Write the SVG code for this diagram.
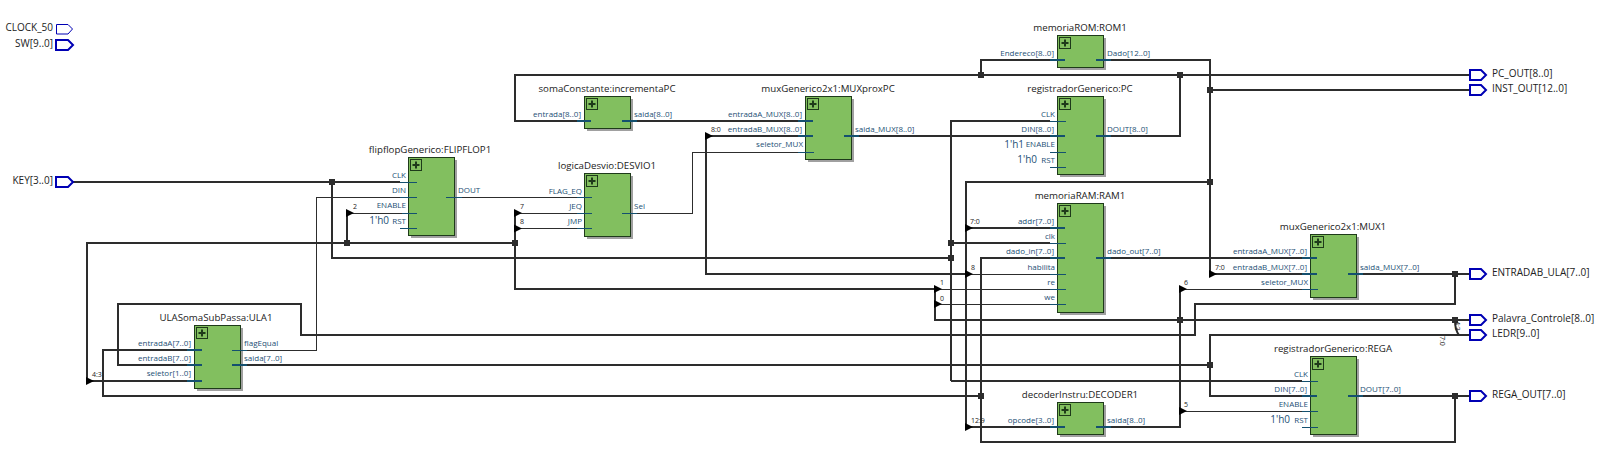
<svg xmlns="http://www.w3.org/2000/svg" width="1600" height="459" viewBox="0 0 1600 459">
<style>
text{font-family:"Open Sans","Noto Sans","Liberation Sans",sans-serif}
.t{font-size:9.7px;fill:#222;text-anchor:middle}
.p{font-size:8px;fill:#1d4f75}
.c{font-size:10px;fill:#1d4f75;text-anchor:end}
.n{font-size:7px;fill:#222}
.pl{font-size:10px;fill:#222}
.b{fill:#82bf5f;stroke:#1e3a1a;stroke-width:1}
.sh{fill:#a0a0a0}
.ic{fill:none;stroke:#1e3a1a;stroke-width:1}
.w{fill:none;stroke:#2d2d2d;stroke-width:2}
.f{fill:none;stroke:#2d2d2d;stroke-width:1;shape-rendering:crispEdges}
.s{stroke:#14506f;stroke-width:2;fill:none}
.st{stroke:#14506f;stroke-width:1;fill:none;shape-rendering:crispEdges}
.port{fill:#fff;stroke:#0000b4;stroke-width:2}
.j{fill:#2d2d2d}
.a{fill:#000}
</style>
<defs>
<g id="plus"><rect class="ic" x="-5.500" y="-5.500" width="11" height="11"/><path d="M-3.500 0H3.500M0-3.500V3.500" stroke="#1e3a1a" stroke-width="2"/></g>
<path id="o" class="port" d="M0-5H11L16 0L11 5H0Z"/>
<path id="i" class="port" d="M0-5H12L17 0L12 5H0Z"/>
<rect id="jn" class="j" x="-3" y="-3" width="6" height="6"/>
<path id="ar" class="a" d="M-1-4L7 0L-1 4Z"/>
</defs>

<g id="connectors">
<path class="w" d="M72 182H400"/>
<path class="w" d="M332 182V258H951"/>
<path class="w" d="M951 381V121H1050M951 243H1050M951 381H1302"/>
<path class="w" d="M187 381H87V243H515"/>
<path class="w" d="M347 243V213"/><path class="f" d="M347 213H402"/>
<path class="w" d="M515 213V289H935"/>
<path class="f" d="M515 213H577M515 228.500H577M935 289H1050M935 304H1050M966 274H1050M1180 289H1302M1180 411H1302"/>
<path class="w" d="M187 350H103V396H981"/>
<path class="w" d="M187 365H118V304H301V335H1195V304H1455V274"/>
<path class="w" d="M247 365H1210"/>
<path class="w" d="M1302 396H1210V335H1470"/>
<path class="w" d="M1363 396H1470"/>
<path class="w" d="M1455 396V442H981V258H1050"/>
<path class="f" d="M232 350H316V197H400M462 197H577"/>
<path class="f" d="M637 213H692V152H798"/>
<path class="w" d="M1470 75H515V121H577M637 121H798"/>
<path class="w" d="M981 75V60H1050M1180 75V136H1111"/>
<path class="w" d="M966 274H706V136H798"/>
<path class="w" d="M859 136H1050"/>
<path class="w" d="M1111 60H1210V274H1302M1210 90H1470M1210 182H966V427H1050M966 228H1050"/>
<path class="w" d="M1111 258H1302"/>
<path class="w" d="M1363 274H1470"/>
<path class="w" d="M1111 427H1180V289"/>
<path class="w" d="M935 289V320H1470"/>
<path class="w" d="M1455 320Q1455 330 1459 335"/>
<use href="#jn" x="332" y="182"/><use href="#jn" x="347" y="243"/><use href="#jn" x="515" y="243"/><use href="#jn" x="951" y="243"/><use href="#jn" x="951" y="258"/><use href="#jn" x="981" y="75"/><use href="#jn" x="1180" y="75"/><use href="#jn" x="1210" y="90"/><use href="#jn" x="1210" y="182"/><use href="#jn" x="981" y="396"/><use href="#jn" x="1210" y="365"/><use href="#jn" x="1180" y="320"/><use href="#jn" x="1455" y="274"/><use href="#jn" x="1455" y="320"/><use href="#jn" x="1455" y="396"/>
<use href="#ar" x="347" y="213"/><use href="#ar" x="515" y="213"/><use href="#ar" x="515" y="228.500"/><use href="#ar" x="87" y="381"/><use href="#ar" x="706" y="136"/><use href="#ar" x="966" y="228"/><use href="#ar" x="966" y="274"/><use href="#ar" x="966" y="427"/><use href="#ar" x="935" y="289"/><use href="#ar" x="935" y="304"/><use href="#ar" x="1210" y="274"/><use href="#ar" x="1180" y="289"/><use href="#ar" x="1180" y="411"/>
<text class="n" x="353" y="209">2</text><text class="n" x="520" y="209">7</text><text class="n" x="520" y="224">8</text><text class="n" x="92" y="377">4:3</text><text class="n" x="711" y="132">8:0</text><text class="n" x="970" y="224">7:0</text><text class="n" x="971" y="270">8</text><text class="n" x="940" y="285">1</text><text class="n" x="940" y="301">0</text><text class="n" x="1215" y="270">7:0</text><text class="n" x="1184" y="285">6</text><text class="n" x="1184" y="407">5</text><text class="n" x="971" y="423">12:9</text><text class="n" transform="translate(1454.500 321) rotate(90)">4:3</text><text class="n" transform="translate(1440 336) rotate(90)">7:0</text>
</g>

<g id="CLOCK_50"><path class="port" style="stroke-width:1" d="M56.500 24.500H68L72.500 29L68 34H56.500Z"/><text class="pl" x="53" y="31" text-anchor="end">CLOCK_50</text></g>
<g id="SW"><use href="#i" x="56" y="45"/><text class="pl" x="53" y="47" text-anchor="end">SW[9..0]</text></g>
<g id="KEY"><use href="#i" x="56" y="182"/><text class="pl" x="53" y="184" text-anchor="end">KEY[3..0]</text></g>
<g id="PC_OUT"><use href="#o" x="1470" y="75"/><text class="pl" x="1492" y="77">PC_OUT[8..0]</text></g>
<g id="INST_OUT"><use href="#o" x="1470" y="90"/><text class="pl" x="1492" y="92">INST_OUT[12..0]</text></g>
<g id="ENTRADAB_ULA"><use href="#o" x="1470" y="274"/><text class="pl" x="1492" y="276">ENTRADAB_ULA[7..0]</text></g>
<g id="Palavra_Controle"><use href="#o" x="1470" y="320"/><text class="pl" x="1492" y="322">Palavra_Controle[8..0]</text></g>
<g id="LEDR"><use href="#o" x="1470" y="335"/><text class="pl" x="1492" y="337">LEDR[9..0]</text></g>
<g id="REGA_OUT"><use href="#o" x="1470" y="396"/><text class="pl" x="1492" y="398">REGA_OUT[7..0]</text></g>

<g id="flipflop">
<rect class="sh" x="411" y="160" width="46" height="78"/><rect class="b" x="408.500" y="157.500" width="46" height="78"/><use href="#plus" x="416" y="165"/>
<text class="t" x="430" y="153">flipflopGenerico:FLIPFLOP1</text>
<path class="st" d="M400 182H417M400 197H417M402 213H417M400 228.500H417M446 197H462"/>
<text class="p" text-anchor="end" x="406" y="178">CLK</text><text class="p" text-anchor="end" x="406" y="193">DIN</text><text class="p" text-anchor="end" x="406" y="208">ENABLE</text><text class="p" text-anchor="end" x="406" y="224">RST</text><text class="c" x="389" y="224">1'h0</text><text class="p" x="458" y="193">DOUT</text>
</g>
<g id="ula">
<rect class="sh" x="197" y="328" width="46" height="63"/><rect class="b" x="194.500" y="325.500" width="46" height="63"/><use href="#plus" x="202" y="333"/>
<text class="t" x="216" y="321">ULASomaSubPassa:ULA1</text>
<path class="s" d="M187 350H202M187 365H202M187 381H202M232 365H247"/><path class="st" d="M232 350H247"/>
<text class="p" text-anchor="end" x="191" y="346">entradaA[7..0]</text><text class="p" text-anchor="end" x="191" y="361">entradaB[7..0]</text><text class="p" text-anchor="end" x="191" y="376">seletor[1..0]</text><text class="p" x="244" y="346">flagEqual</text><text class="p" x="244" y="361">saida[7..0]</text>
</g>
<g id="incrementa">
<rect class="sh" x="587" y="99" width="46" height="32"/><rect class="b" x="584.500" y="96.500" width="46" height="32"/><use href="#plus" x="592" y="104"/>
<text class="t" x="607" y="92">somaConstante:incrementaPC</text>
<path class="s" d="M577 121H591M622 121H637"/>
<text class="p" text-anchor="end" x="581" y="117">entrada[8..0]</text><text class="p" x="634" y="117">saida[8..0]</text>
</g>
<g id="muxprox">
<rect class="sh" x="808" y="99" width="46" height="63"/><rect class="b" x="805.500" y="96.500" width="46" height="63"/><use href="#plus" x="813" y="104"/>
<text class="t" x="828" y="92">muxGenerico2x1:MUXproxPC</text>
<path class="s" d="M798 121H813M798 136H813M844 136H859"/><path class="st" d="M798 152H814"/>
<text class="p" text-anchor="end" x="802" y="117">entradaA_MUX[8..0]</text><text class="p" text-anchor="end" x="802" y="132">entradaB_MUX[8..0]</text><text class="p" text-anchor="end" x="803" y="147">seletor_MUX</text><text class="p" x="855" y="132">saida_MUX[8..0]</text>
</g>
<g id="desvio">
<rect class="sh" x="587" y="176" width="46" height="63"/><rect class="b" x="584.500" y="173.500" width="46" height="63"/><use href="#plus" x="592" y="181"/>
<text class="t" x="607" y="169">logicaDesvio:DESVIO1</text>
<path class="st" d="M577 197H592M577 213H592M577 228.500H592M622 213H637"/>
<text class="p" text-anchor="end" x="582" y="194">FLAG_EQ</text><text class="p" text-anchor="end" x="582" y="209">JEQ</text><text class="p" text-anchor="end" x="582" y="224">JMP</text><text class="p" x="634" y="209">Sel</text>
</g>
<g id="rom">
<rect class="sh" x="1060" y="38" width="46" height="32"/><rect class="b" x="1057.500" y="35.500" width="46" height="32"/><use href="#plus" x="1065" y="43"/>
<text class="t" x="1080" y="31">memoriaROM:ROM1</text>
<path class="s" d="M1050 60H1065M1096 60H1111"/>
<text class="p" text-anchor="end" x="1054" y="56">Endereco[8..0]</text><text class="p" x="1107" y="56">Dado[12..0]</text>
</g>
<g id="pc">
<rect class="sh" x="1060" y="99" width="46" height="78"/><rect class="b" x="1057.500" y="96.500" width="46" height="78"/><use href="#plus" x="1065" y="104"/>
<text class="t" x="1080" y="92">registradorGenerico:PC</text>
<path class="st" d="M1050 121H1066M1050 152H1066M1050 167H1066"/><path class="s" d="M1050 136H1065M1096 136H1111"/>
<text class="p" text-anchor="end" x="1055" y="117">CLK</text><text class="p" text-anchor="end" x="1054" y="132">DIN[8..0]</text><text class="p" text-anchor="end" x="1055" y="147">ENABLE</text><text class="p" text-anchor="end" x="1055" y="163">RST</text><text class="c" x="1024" y="148">1'h1</text><text class="c" x="1037" y="163">1'h0</text><text class="p" x="1107" y="132">DOUT[8..0]</text>
</g>
<g id="ram">
<rect class="sh" x="1060" y="206" width="46" height="109"/><rect class="b" x="1057.500" y="203.500" width="46" height="109"/><use href="#plus" x="1065" y="211"/>
<text class="t" x="1080" y="199">memoriaRAM:RAM1</text>
<path class="s" d="M1050 228H1065M1050 258H1065M1096 258H1111"/><path class="st" d="M1050 243H1066M1050 274H1066M1050 289H1066M1050 304H1066"/>
<text class="p" text-anchor="end" x="1054" y="224">addr[7..0]</text><text class="p" text-anchor="end" x="1055" y="239">clk</text><text class="p" text-anchor="end" x="1054" y="254">dado_in[7..0]</text><text class="p" text-anchor="end" x="1055" y="270">habilita</text><text class="p" text-anchor="end" x="1055" y="285">re</text><text class="p" text-anchor="end" x="1055" y="300">we</text><text class="p" x="1107" y="254">dado_out[7..0]</text>
</g>
<g id="decoder">
<rect class="sh" x="1060" y="405" width="46" height="32"/><rect class="b" x="1057.500" y="402.500" width="46" height="32"/><use href="#plus" x="1065" y="410"/>
<text class="t" x="1080" y="398">decoderInstru:DECODER1</text>
<path class="s" d="M1050 427H1065M1096 427H1111"/>
<text class="p" text-anchor="end" x="1054" y="423">opcode[3..0]</text><text class="p" x="1107" y="423">saida[8..0]</text>
</g>
<g id="mux1">
<rect class="sh" x="1313" y="237" width="46" height="63"/><rect class="b" x="1310.500" y="234.500" width="46" height="63"/><use href="#plus" x="1318" y="242"/>
<text class="t" x="1333" y="230">muxGenerico2x1:MUX1</text>
<path class="s" d="M1302 258H1317M1302 274H1317M1348 274H1363"/><path class="st" d="M1302 289H1318"/>
<text class="p" text-anchor="end" x="1307" y="254">entradaA_MUX[7..0]</text><text class="p" text-anchor="end" x="1307" y="270">entradaB_MUX[7..0]</text><text class="p" text-anchor="end" x="1308" y="285">seletor_MUX</text><text class="p" x="1360" y="270">saida_MUX[7..0]</text>
</g>
<g id="rega">
<rect class="sh" x="1313" y="359" width="46" height="78"/><rect class="b" x="1310.500" y="356.500" width="46" height="78"/><use href="#plus" x="1318" y="364"/>
<text class="t" x="1333" y="352">registradorGenerico:REGA</text>
<path class="st" d="M1302 381H1318M1302 411H1318M1302 427H1318"/><path class="s" d="M1302 396H1317M1348 396H1363"/>
<text class="p" text-anchor="end" x="1308" y="377">CLK</text><text class="p" text-anchor="end" x="1307" y="392">DIN[7..0]</text><text class="p" text-anchor="end" x="1308" y="407">ENABLE</text><text class="p" text-anchor="end" x="1308" y="423">RST</text><text class="c" x="1290" y="423">1'h0</text><text class="p" x="1360" y="392">DOUT[7..0]</text>
</g>
</svg>
